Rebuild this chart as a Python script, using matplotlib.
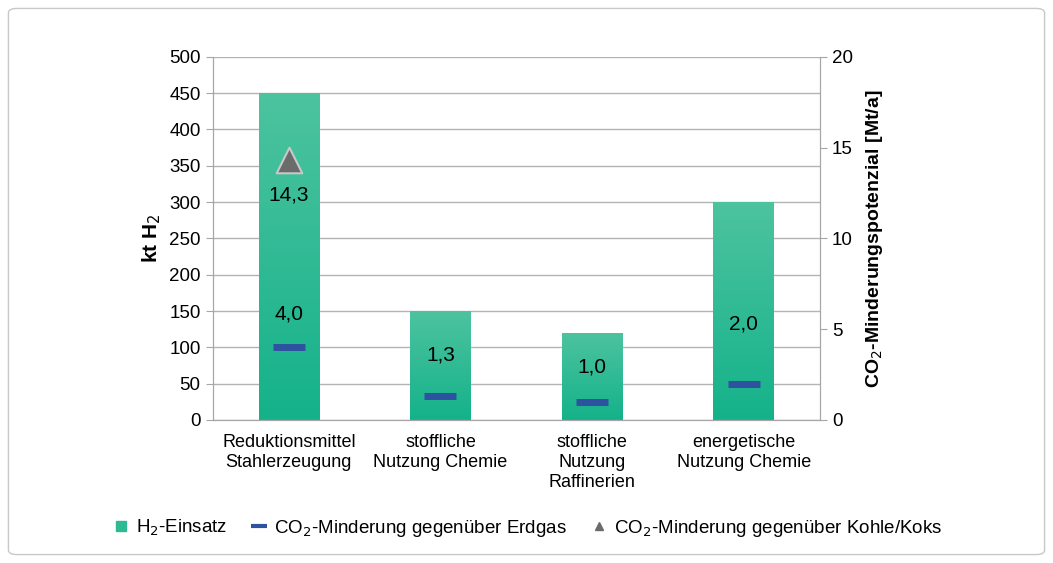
import numpy as np
import matplotlib.pyplot as plt
from matplotlib.patches import FancyBboxPatch
from matplotlib.lines import Line2D
from matplotlib.colors import LinearSegmentedColormap

plt.rcParams['font.family'] = ['Liberation Sans', 'DejaVu Sans']

# Data
categories = ["Reduktionsmittel\nStahlerzeugung", "stoffliche\nNutzung Chemie",
              "stoffliche\nNutzung\nRaffinerien", "energetische\nNutzung Chemie"]
h2_use = [450, 150, 120, 300]          # kt H2
co2_gas = [4.0, 1.3, 1.0, 2.0]         # Mt/a, vs natural gas
co2_coal = [14.3, None, None, None]    # Mt/a, vs coal/coke
gas_labels = ["4,0", "1,3", "1,0", "2,0"]
coal_labels = ["14,3", None, None, None]

GRAY = "#a6a6a6"
fig = plt.figure(figsize=(10.53, 5.63), dpi=100)
fig.patches.append(FancyBboxPatch((0.008, 0.015), 0.984, 0.97, boxstyle="round,pad=0,rounding_size=0.008",
                                  transform=fig.transFigure, fill=False, edgecolor="#c8c8c8", lw=1))

ax = fig.add_axes([0.2023, 0.254, 0.576, 0.645])
ax2 = ax.twinx()
x = np.arange(len(categories))
w = 0.4

cmap = LinearSegmentedColormap.from_list("g", ["#14b28a", "#4dc39f"])
bars = ax.bar(x, h2_use, width=w, color="#1fb58e", zorder=2)
grad = np.linspace(0, 1, 256).reshape(-1, 1)
for b in bars:
    bx, by = b.get_x(), b.get_y()
    im = ax.imshow(grad, extent=[bx, bx + b.get_width(), by, by + b.get_height()],
                   origin="lower", cmap=cmap, aspect="auto", zorder=2)
    im.set_clip_path(b)

ax.set_xlim(-0.5, len(categories) - 0.5)
ax.set_ylim(0, 500)
ax.set_yticks(range(0, 501, 50))
ax2.set_ylim(0, 20)
ax2.set_yticks(range(0, 21, 5))
ax.grid(axis="y", color="#b3b3b3", lw=1, zorder=0)
ax.set_axisbelow(True)

ax.set_xticks(x)
ax.set_xticklabels(categories, fontsize=13, linespacing=1.25)
ax.tick_params(axis="x", length=0, pad=10)
ax.tick_params(axis="y", labelsize=13.5, color=GRAY, length=5, pad=4)
ax2.tick_params(axis="y", labelsize=13.5, color=GRAY, length=5, pad=4)
for a in (ax, ax2):
    a.spines["top"].set_visible(False)
    for s in ("left", "right", "bottom"):
        a.spines[s].set_color(GRAY)

ax.set_ylabel("kt H$_2$", fontsize=15, fontweight="bold", labelpad=4)
ax2.set_ylabel("CO$_2$-Minderungspotenzial [Mt/a]", fontsize=14, fontweight="bold", labelpad=8)

ax2.scatter(x, co2_gas, marker="_", s=500, linewidths=5, color="#2f52a0", zorder=4)
cx = [i for i, v in enumerate(co2_coal) if v is not None]
cy = [v for v in co2_coal if v is not None]
ax2.scatter(cx, cy, marker="^", s=340, color="#6b6b6b", edgecolors="#c8c8c8", linewidths=1.5, zorder=4)

gas_offsets = [24, 30, 25, 43]
for i, (v, lab) in enumerate(zip(co2_gas, gas_labels)):
    ax2.annotate(lab, (i, v), xytext=(0, gas_offsets[i]), textcoords="offset points",
                 ha="center", va="center", fontsize=15, zorder=5)
for i, (v, lab) in enumerate(zip(co2_coal, coal_labels)):
    if lab:
        ax2.annotate(lab, (i, v), xytext=(0, -25), textcoords="offset points",
                     ha="center", va="center", fontsize=15, zorder=5)

handles = [
    Line2D([], [], marker="s", ls="", color="#2dba93", markersize=7),
    Line2D([], [], marker="_", ls="", color="#2f52a0", markersize=12, markeredgewidth=3),
    Line2D([], [], marker="^", ls="", color="#6b6b6b", markersize=6),
]
labels = ["H$_2$-Einsatz", "CO$_2$-Minderung gegenüber Erdgas", "CO$_2$-Minderung gegenüber Kohle/Koks"]
fig.legend(handles, labels, loc="center left", bbox_to_anchor=(0.09, 0.062), ncol=3, frameon=False,
           fontsize=13.5, handletextpad=0.3, columnspacing=1.2, handlelength=1.0)

fig.savefig("out.png", dpi=100)
